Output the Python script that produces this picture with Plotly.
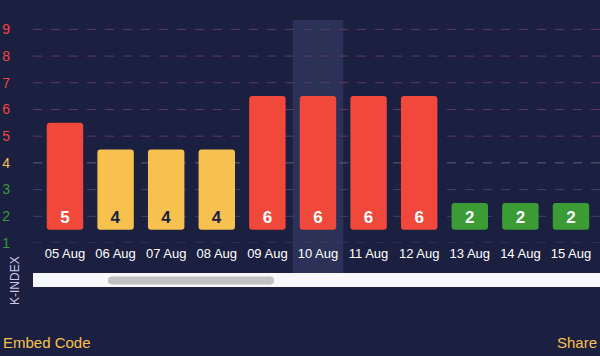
import plotly.graph_objects as go

# ---- data ----
dates = ["05 Aug", "06 Aug", "07 Aug", "08 Aug", "09 Aug", "10 Aug",
         "11 Aug", "12 Aug", "13 Aug", "14 Aug", "15 Aug"]
kp_values = [5, 4, 4, 4, 6, 6, 6, 6, 2, 2, 2]
k_ticks = [1, 2, 3, 4, 5, 6, 7, 8, 9]
highlight_date = "10 Aug"

# ---- styling ----
BG = "#1b1f40"
RED = "#f0493b"
YELLOW = "#f6c14f"
GREEN = "#3b9b35"
BAND = "#2c3157"
FONT = "Liberation Sans, Arial, sans-serif"


def level_color(k):
    if k >= 5:
        return RED
    if k == 4:
        return YELLOW
    return GREEN


def grid_color(k):
    if k >= 5:
        return "#5f3b62"
    if k == 4:
        return "#5f6079"
    return "#3f4468"


BASE = 1.5
bar_colors = [level_color(v) for v in kp_values]
text_colors = [BG if v == 4 else "#ffffff" for v in kp_values]
idx = list(range(len(dates)))

fig = go.Figure()
fig.add_trace(go.Bar(
    x=idx,
    y=[v - 1 for v in kp_values],
    base=BASE,
    marker=dict(color=bar_colors, line=dict(width=0)),
    text=[str(v) for v in kp_values],
    textposition="inside",
    insidetextanchor="start",
    textangle=0,
    textfont=dict(family=FONT, size=17, color=text_colors, weight="bold"),
    hoverinfo="skip",
))

# plot area geometry (pixels)
W, H = 600, 356
L, R, T, B = 33, 0, 20, 113
plot_w = W - L - R
plot_h = H - T - B
unit_x = 50.6
x0 = -0.632
x1 = x0 + plot_w / unit_x
y_lo, y_hi = 1, 9.35

shapes = []
# hover band behind highlighted category
hi = dates.index(highlight_date)
band_bottom_px = 273
shapes.append(dict(type="rect", xref="x", yref="paper",
                   x0=hi - 0.5, x1=hi + 0.5,
                   y0=-(band_bottom_px - (T + plot_h)) / plot_h, y1=1,
                   fillcolor=BAND, line=dict(width=0), layer="below"))
# dashed gridlines
for k in k_ticks:
    shapes.append(dict(type="line", xref="paper", yref="y",
                       x0=0, x1=1, y0=k, y1=k,
                       line=dict(color=grid_color(k), width=1, dash="dash"),
                       layer="below"))


def py(px):
    return 1 - (px - T) / plot_h


def px_x(px):
    return (px - L) / plot_w


# scrollbar
shapes.append(dict(type="rect", xref="paper", yref="paper",
                   x0=px_x(33), x1=px_x(600), y0=py(287), y1=py(273),
                   fillcolor="#f8f8fc", line=dict(width=0)))
shapes.append(dict(type="rect", xref="paper", yref="paper",
                   x0=px_x(112), x1=px_x(270), y0=py(284.5), y1=py(276.5),
                   fillcolor="#c1c1c1", line=dict(width=0)))
shapes.append(dict(type="circle", xref="paper", yref="paper",
                   x0=px_x(108), x1=px_x(116), y0=py(284.5), y1=py(276.5),
                   fillcolor="#c1c1c1", line=dict(width=0)))
shapes.append(dict(type="circle", xref="paper", yref="paper",
                   x0=px_x(266), x1=px_x(274), y0=py(284.5), y1=py(276.5),
                   fillcolor="#c1c1c1", line=dict(width=0)))

annotations = [
    dict(text="K-INDEX", xref="paper", yref="paper",
         x=px_x(15), y=py(281), textangle=-90, showarrow=False,
         font=dict(family=FONT, size=12, color="#c9cbe6"),
         xanchor="center", yanchor="middle"),
    dict(text="Embed Code", xref="paper", yref="paper",
         x=px_x(1), y=py(342), showarrow=False,
         font=dict(family=FONT, size=15, color=YELLOW),
         xanchor="left", yanchor="middle"),
    dict(text="Share", xref="paper", yref="paper",
         x=1, y=py(342), showarrow=False,
         font=dict(family=FONT, size=15, color=YELLOW),
         xanchor="right", yanchor="middle", xshift=-1),
]

fig.update_layout(
    width=W, height=H,
    margin=dict(l=L, r=R, t=T, b=B, pad=0),
    paper_bgcolor=BG, plot_bgcolor=BG,
    showlegend=False,
    bargap=0.28,
    barcornerradius=3,
    font=dict(family=FONT),
    shapes=shapes,
    annotations=annotations,
    xaxis=dict(
        range=[x0, x1],
        tickmode="array", tickvals=idx, ticktext=dates,
        tickfont=dict(family=FONT, size=13, color="#ffffff"),
        showgrid=False, zeroline=False, showline=False,
        ticks="", ticklabelstandoff=1, fixedrange=True,
    ),
    yaxis=dict(
        range=[y_lo, y_hi],
        tickmode="array", tickvals=k_ticks,
        ticktext=[f"<span style='color:{level_color(k)}'>{k}</span>" for k in k_ticks],
        tickfont=dict(family=FONT, size=14),
        showgrid=False, zeroline=False, showline=False,
        ticks="", ticklabelstandoff=22, fixedrange=True,
    ),
)

fig.write_html("out.html", config={"displayModeBar": False},
               post_script="document.body.style.margin='0';document.body.style.overflow='hidden';")
